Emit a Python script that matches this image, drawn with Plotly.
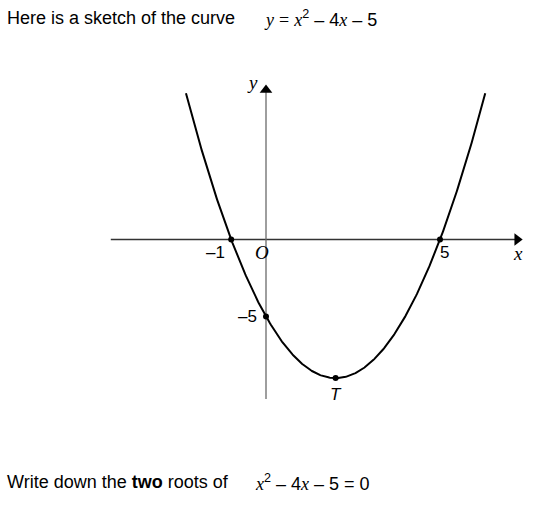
import numpy as np
import plotly.graph_objects as go

# ---- data ----
coef_a, coef_b, coef_c = 1, -4, -5          # y = x^2 - 4x - 5
curve_x_limits = [-2.3, 6.3]                # extent of sketched curve
root_x = [-1, 5]
root_y = [0, 0]
intercept_x = [0]
intercept_y = [-5]
vertex_x = [2]
vertex_y = [-9]
root_labels = ["–1", "5"]
intercept_label = "–5"
vertex_label = "T"
x_axis_extent = [-4.46, 7.39]
y_axis_extent = [-10.36, 10.10]

W, H = 533, 509
# pixel mapping (sketch scale)
px_per_x = 34.8
px_per_y = 15.4
x0_px = 266.0
y0_px = 239.5
x_range = [-x0_px / px_per_x, (W - x0_px) / px_per_x]
y_range = [-(H - y0_px) / px_per_y, y0_px / px_per_y]

xs = np.linspace(curve_x_limits[0], curve_x_limits[1], 400)
ys = coef_a * xs**2 + coef_b * xs + coef_c

SANS = "Liberation Sans, Arial, sans-serif"
SERIF = "Liberation Serif, Times New Roman, serif"
AXIS_COLOR = "#6a6a6a"

fig = go.Figure()

fig.add_trace(go.Scatter(x=xs, y=ys, mode="lines",
                         line=dict(color="black", width=2),
                         hoverinfo="skip", showlegend=False))
pts_x = root_x + intercept_x + vertex_x
pts_y = root_y + intercept_y + vertex_y
fig.add_trace(go.Scatter(x=pts_x, y=pts_y, mode="markers",
                         marker=dict(color="black", size=6),
                         hoverinfo="skip", showlegend=False))

# arrow heads as triangle markers at axis ends
head_px = 6
fig.add_trace(go.Scatter(x=[x_axis_extent[1] - head_px / px_per_x], y=[0], mode="markers",
                         marker=dict(symbol="triangle-right", size=11, color="black"),
                         hoverinfo="skip", showlegend=False))
fig.add_trace(go.Scatter(x=[0], y=[y_axis_extent[1] - head_px / px_per_y], mode="markers",
                         marker=dict(symbol="triangle-up", size=11, color="black"),
                         hoverinfo="skip", showlegend=False))

shapes = [
    dict(type="line", xref="x", yref="y", x0=x_axis_extent[0], x1=x_axis_extent[1] - 0.2,
         y0=0, y1=0, line=dict(color="#333333", width=1.3), layer="below"),
    dict(type="line", xref="x", yref="y", x0=0, x1=0,
         y0=y_axis_extent[0], y1=y_axis_extent[1] - 0.4, line=dict(color=AXIS_COLOR, width=1.3),
         layer="below"),
]

ann = []

def lab(x, y, text, font, size, xs_=0, ys_=0, italic=False):
    t = f"<i>{text}</i>" if italic else text
    ann.append(dict(x=x, y=y, xref="x", yref="y", text=t, showarrow=False,
                    font=dict(family=font, size=size, color="black"),
                    xshift=xs_, yshift=ys_))

# axis labels
lab(0, y_axis_extent[1], "y", SERIF, 19, -14, 1, italic=True)
lab(x_axis_extent[1], 0, "x", SERIF, 19, -5, -14, italic=True)
lab(0, 0, "O", SERIF, 19, -4, -13, italic=True)
lab(root_x[0], root_y[0], root_labels[0], SANS, 17, -16, -13)
lab(root_x[1], root_y[1], root_labels[1], SANS, 17, 4, -13)
lab(intercept_x[0], intercept_y[0], intercept_label, SANS, 17, -19, 0)
lab(vertex_x[0], vertex_y[0], vertex_label, SANS, 17, 0, -16, italic=True)

def ptext(px, py, text, size=18, family=SANS, xanchor="left"):
    ann.append(dict(x=px / W, y=1 - py / H, xref="paper", yref="paper", text=text,
                    showarrow=False, xanchor=xanchor, yanchor="middle",
                    font=dict(family=family, size=size, color="black")))

def sr(t):
    return f"<span style='font-family:Liberation Serif'><i>{t}</i></span>"

EQ = "<span style='font-family:Liberation Serif'>=</span>"
ptext(5, 18, "Here is a sketch of the curve")
ptext(262, 18, f"{sr('y')} {EQ} {sr('x')}<sup>2</sup> – 4{sr('x')} – 5")
ptext(5, 482, "Write down the <b>two</b> roots of")
ptext(253, 482, f"{sr('x')}<sup>2</sup> – 4{sr('x')} – 5 = 0")

fig.update_layout(
    width=W, height=H, autosize=False,
    margin=dict(l=0, r=0, t=0, b=0),
    paper_bgcolor="white", plot_bgcolor="white",
    xaxis=dict(range=x_range, visible=False, fixedrange=True),
    yaxis=dict(range=y_range, visible=False, fixedrange=True),
    shapes=shapes, annotations=ann, showlegend=False,
)

fig.write_html("out.html", config={"displayModeBar": False},
               post_script="document.body.style.margin='0px';document.body.style.overflow='hidden';")
